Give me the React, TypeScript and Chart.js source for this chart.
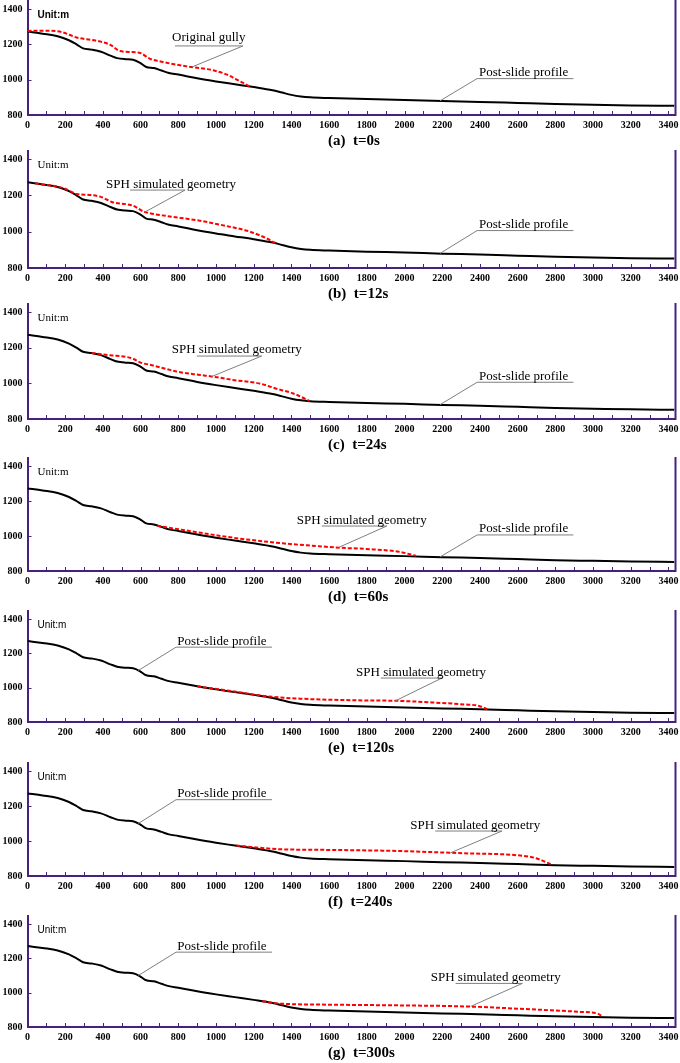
import React, { useEffect, useRef } from "react";
import { Chart, registerables } from "chart.js";

Chart.register(...registerables);

// ---------- data ----------
// Post-slide profile (same in every panel): distance (m) / elevation (m)
const profileDistance = [0, 80, 160, 220, 260, 295, 340, 390, 440, 475, 520, 560, 595, 630, 670, 710, 750, 800, 900, 1000, 1100, 1200, 1300, 1350, 1400, 1450, 1500, 1600, 1800, 2000, 2200, 2400, 2600, 2800, 3000, 3200, 3432];
const profileElevation = [1272, 1260, 1246, 1223, 1200, 1177, 1170, 1158, 1136, 1122, 1116, 1113, 1097, 1072, 1066, 1052, 1038, 1029, 1008, 990, 974, 958, 940, 927, 914, 905, 900, 896, 890, 885, 879, 874, 868, 862, 858, 854, 852];

// (a) original gully
const sphDistanceA = [0, 120, 180, 260, 385, 440, 490, 560, 600, 650, 700, 790, 880, 985, 1055, 1125, 1185];
const sphElevationA = [1276, 1277, 1270, 1239, 1216, 1197, 1162, 1156, 1150, 1118, 1104, 1085, 1070, 1053, 1030, 992, 958];
// (b) t=12s
const sphDistanceB = [40, 190, 260, 330, 385, 455, 525, 560, 615, 650, 740, 915, 1055, 1165, 1250, 1315];
const sphElevationB = [1266, 1240, 1208, 1202, 1193, 1161, 1151, 1143, 1111, 1101, 1086, 1060, 1031, 1005, 972, 938];
// (c) t=24s
const sphDistanceC = [340, 440, 525, 560, 600, 650, 740, 810, 915, 1005, 1090, 1235, 1320, 1410, 1495];
const sphElevationC = [1170, 1157, 1148, 1138, 1116, 1104, 1080, 1062, 1047, 1034, 1019, 998, 970, 943, 902];
// (d) t=60s
const sphDistanceD = [688, 828, 1092, 1355, 1530, 1655, 1795, 1970, 2060];
const sphElevationD = [1058, 1034, 990, 958, 943, 933, 926, 910, 887];
// (e) t=120s
const sphDistanceE = [900, 1095, 1270, 1445, 1710, 1970, 2145, 2320, 2390, 2440];
const sphElevationE = [1008, 978, 950, 936, 927, 923, 914, 902, 895, 874];
// (f) t=240s
const sphDistanceF = [1108, 1338, 1605, 1960, 2315, 2580, 2686, 2775];
const sphElevationF = [974, 953, 949, 943, 930, 920, 905, 868];
// (g) t=300s
const sphDistanceG = [1245, 1342, 1608, 1962, 2316, 2670, 2935, 3024, 3050];
const sphElevationG = [950, 936, 930, 926, 920, 903, 888, 878, 860];

const xTickLabels = [0, 200, 400, 600, 800, 1000, 1200, 1400, 1600, 1800, 2000, 2200, 2400, 2600, 2800, 3000, 3200, 3400];
const yTickLabels = [800, 1000, 1200, 1400];
const panelLetters = ["(a)", "(b)", "(c)", "(d)", "(e)", "(f)", "(g)"];
const panelTimes = ["t=0s", "t=12s", "t=24s", "t=60s", "t=120s", "t=240s", "t=300s"];

// ---------- annotations (data units) ----------
type Note = { text: string; tx: number; ty: number; ux1: number; ux2: number; uy: number; from: "left" | "right"; lx: number; ly: number };

const notePostRight: Note = { text: "Post-slide profile", tx: 2395, ty: 1021, ux1: 2385, ux2: 2896, uy: 1006, from: "left", lx: 2188, ly: 880 };
const notePostLeft: Note = { text: "Post-slide profile", tx: 795, ty: 1250, ux1: 788, ux2: 1297, uy: 1236, from: "left", lx: 588, ly: 1100 };

const PANELS: { sx: number[]; sy: number[]; unitFont: string; notes: Note[] }[] = [
  {
    sx: sphDistanceA, sy: sphElevationA, unitFont: 'bold 10px "Liberation Sans"',
    notes: [{ text: "Original gully", tx: 767, ty: 1219, ux1: 782, ux2: 1143, uy: 1191, from: "right", lx: 873, ly: 1072 }, notePostRight],
  },
  {
    sx: sphDistanceB, sy: sphElevationB, unitFont: '11px "Liberation Serif"',
    notes: [{ text: "SPH simulated geometry", tx: 417, ty: 1242, ux1: 544, ux2: 836, uy: 1229, from: "right", lx: 623, ly: 1108 }, notePostRight],
  },
  {
    sx: sphDistanceC, sy: sphElevationC, unitFont: '11px "Liberation Serif"',
    notes: [{ text: "SPH simulated geometry", tx: 765, ty: 1168, ux1: 898, ux2: 1242, uy: 1153, from: "right", lx: 977, ly: 1038 }, notePostRight],
  },
  {
    sx: sphDistanceD, sy: sphElevationD, unitFont: '11px "Liberation Serif"',
    notes: [{ text: "SPH simulated geometry", tx: 1428, ty: 1069, ux1: 1561, ux2: 1906, uy: 1057, from: "right", lx: 1649, ly: 934 }, notePostRight],
  },
  {
    sx: sphDistanceE, sy: sphElevationE, unitFont: '10px "Liberation Sans"',
    notes: [notePostLeft, { text: "SPH simulated geometry", tx: 1743, ty: 1070, ux1: 1874, ux2: 2198, uy: 1056, from: "right", lx: 1953, ly: 924 }],
  },
  {
    sx: sphDistanceF, sy: sphElevationF, unitFont: '10px "Liberation Sans"',
    notes: [notePostLeft, { text: "SPH simulated geometry", tx: 2030, ty: 1069, ux1: 2163, ux2: 2517, uy: 1057, from: "right", lx: 2243, ly: 932 }],
  },
  {
    sx: sphDistanceG, sy: sphElevationG, unitFont: '10px "Liberation Sans"',
    notes: [notePostLeft, { text: "SPH simulated geometry", tx: 2139, ty: 1066, ux1: 2271, ux2: 2625, uy: 1054, from: "right", lx: 2351, ly: 920 }],
  },
];

// ---------- layout ----------
const PURPLE = "#45207d";
const GRAY = "#7f7f7f";
const PANEL_TOPS = [0, 150, 303, 457, 610, 762, 915];
const PLOT_H = [106, 109, 107, 105, 103, 105, 103];
const CANVAS_W = 680;
const CANVAS_H = 154;
const TOP_GAP = 9;
const Y_AXIS_W = 27.5;
const RIGHT_PAD = 5.5;
const X_MAX = 3432;
const TICK_FONT = { family: '"Liberation Serif", "Times New Roman", serif', size: 10, weight: "bold" as const };

function Panel({ idx }: { idx: number }) {
  const ref = useRef<HTMLCanvasElement>(null);
  useEffect(() => {
    const p = PANELS[idx];
    const plotH = PLOT_H[idx];
    const yMax = 1400 + (TOP_GAP * 600) / plotH;
    const xAxisH = CANVAS_H - TOP_GAP - plotH;

    const decor = {
      id: "decor" + idx,
      afterDatasetsDraw(chart: any) {
        const { ctx, chartArea: a, scales } = chart;
        const xs = scales.x;
        const ys = scales.y;
        ctx.save();
        // right frame line
        ctx.strokeStyle = PURPLE;
        ctx.lineWidth = 2;
        ctx.beginPath();
        ctx.moveTo(Math.round(a.right) + 0.5, a.top);
        ctx.lineTo(Math.round(a.right) + 0.5, a.bottom + 1);
        ctx.stroke();
        // inside tick marks
        ctx.lineWidth = 1;
        ctx.beginPath();
        for (let v = 100; v <= X_MAX; v += 100) {
          const px = Math.round(xs.getPixelForValue(v)) + 0.5;
          ctx.moveTo(px, a.bottom);
          ctx.lineTo(px, a.bottom - 4);
        }
        for (const v of yTickLabels) {
          if (v === 800) continue;
          const py = Math.round(ys.getPixelForValue(v)) + 0.5;
          ctx.moveTo(a.left, py);
          ctx.lineTo(a.left + 4, py);
        }
        ctx.stroke();

        // annotations
        for (const n of p.notes) {
          const ux1 = xs.getPixelForValue(n.ux1);
          const ux2 = xs.getPixelForValue(n.ux2);
          const uy = ys.getPixelForValue(n.uy);
          const lx = xs.getPixelForValue(n.lx);
          const ly = ys.getPixelForValue(n.ly);
          ctx.strokeStyle = GRAY;
          ctx.lineWidth = 1;
          ctx.beginPath();
          ctx.moveTo(ux1, uy);
          ctx.lineTo(ux2, uy);
          const sx = n.from === "left" ? ux1 : ux2;
          ctx.moveTo(sx, uy);
          ctx.lineTo(lx, ly);
          ctx.stroke();
          ctx.fillStyle = "#000";
          ctx.font = '13px "Liberation Serif", "Times New Roman", serif';
          ctx.textAlign = "left";
          ctx.textBaseline = "alphabetic";
          ctx.fillText(n.text, xs.getPixelForValue(n.tx), ys.getPixelForValue(n.ty));
        }

        // unit label
        ctx.fillStyle = "#000";
        ctx.font = p.unitFont;
        ctx.textAlign = "left";
        ctx.textBaseline = "middle";
        ctx.fillText("Unit:m", a.left + 10, a.top + TOP_GAP + 6);

        // caption
        ctx.font = 'bold 15px "Liberation Serif", "Times New Roman", serif';
        ctx.textBaseline = "middle";
        ctx.fillText(panelLetters[idx] + "  " + panelTimes[idx], 328, a.bottom + 26);
        ctx.restore();
      },
    };

    const chart = new Chart(ref.current as HTMLCanvasElement, {
      type: "line",
      data: {
        datasets: [
          {
            data: p.sx.map((x, i) => ({ x, y: p.sy[i] })),
            borderColor: "#ff0000",
            borderWidth: 2,
            borderDash: [4, 2],
            pointRadius: 0,
            cubicInterpolationMode: "monotone",
            fill: false,
          },
          {
            data: profileDistance.map((x, i) => ({ x, y: profileElevation[i] })),
            borderColor: "#000000",
            borderWidth: 2,
            pointRadius: 0,
            cubicInterpolationMode: "monotone",
            fill: false,
          },
        ],
      },
      options: {
        responsive: false,
        animation: false,
        events: [],
        layout: { padding: { top: 0, left: 0, right: RIGHT_PAD, bottom: 0 } },
        plugins: { legend: { display: false }, tooltip: { enabled: false }, title: { display: false } },
        scales: {
          x: {
            type: "linear",
            min: 0,
            max: X_MAX,
            afterBuildTicks: (s: any) => {
              s.ticks = xTickLabels.map((v) => ({ value: v }));
            },
            afterFit: (s: any) => {
              s.height = xAxisH;
              s.paddingLeft = 0;
              s.paddingRight = 0;
            },
            grid: { display: false, drawTicks: false },
            border: { display: true, color: PURPLE, width: 2 },
            ticks: {
              color: "#000",
              font: TICK_FONT,
              padding: 4,
              autoSkip: false,
              maxRotation: 0,
              callback: (v: any) => String(v),
            },
          },
          y: {
            type: "linear",
            min: 800,
            max: yMax,
            afterBuildTicks: (s: any) => {
              s.ticks = yTickLabels.map((v) => ({ value: v }));
            },
            afterFit: (s: any) => {
              s.width = Y_AXIS_W;
              s.paddingTop = 0;
              s.paddingBottom = 0;
            },
            grid: { display: false, drawTicks: false },
            border: { display: true, color: PURPLE, width: 2 },
            ticks: {
              color: "#000",
              font: TICK_FONT,
              padding: 5,
              autoSkip: false,
              callback: (v: any) => String(v),
            },
          },
        },
      } as any,
      plugins: [decor],
    });
    return () => chart.destroy();
  }, [idx]);

  return (
    <canvas
      ref={ref}
      width={CANVAS_W}
      height={CANVAS_H}
      style={{ position: "absolute", left: 0, top: PANEL_TOPS[idx], width: CANVAS_W, height: CANVAS_H, display: "block" }}
    />
  );
}

export default function App() {
  return (
    <div style={{ position: "absolute", left: 0, top: 0, width: 680, height: 1063, background: "#fff", overflow: "hidden" }}>
      {PANELS.map((_, i) => (
        <Panel key={i} idx={i} />
      ))}
    </div>
  );
}
